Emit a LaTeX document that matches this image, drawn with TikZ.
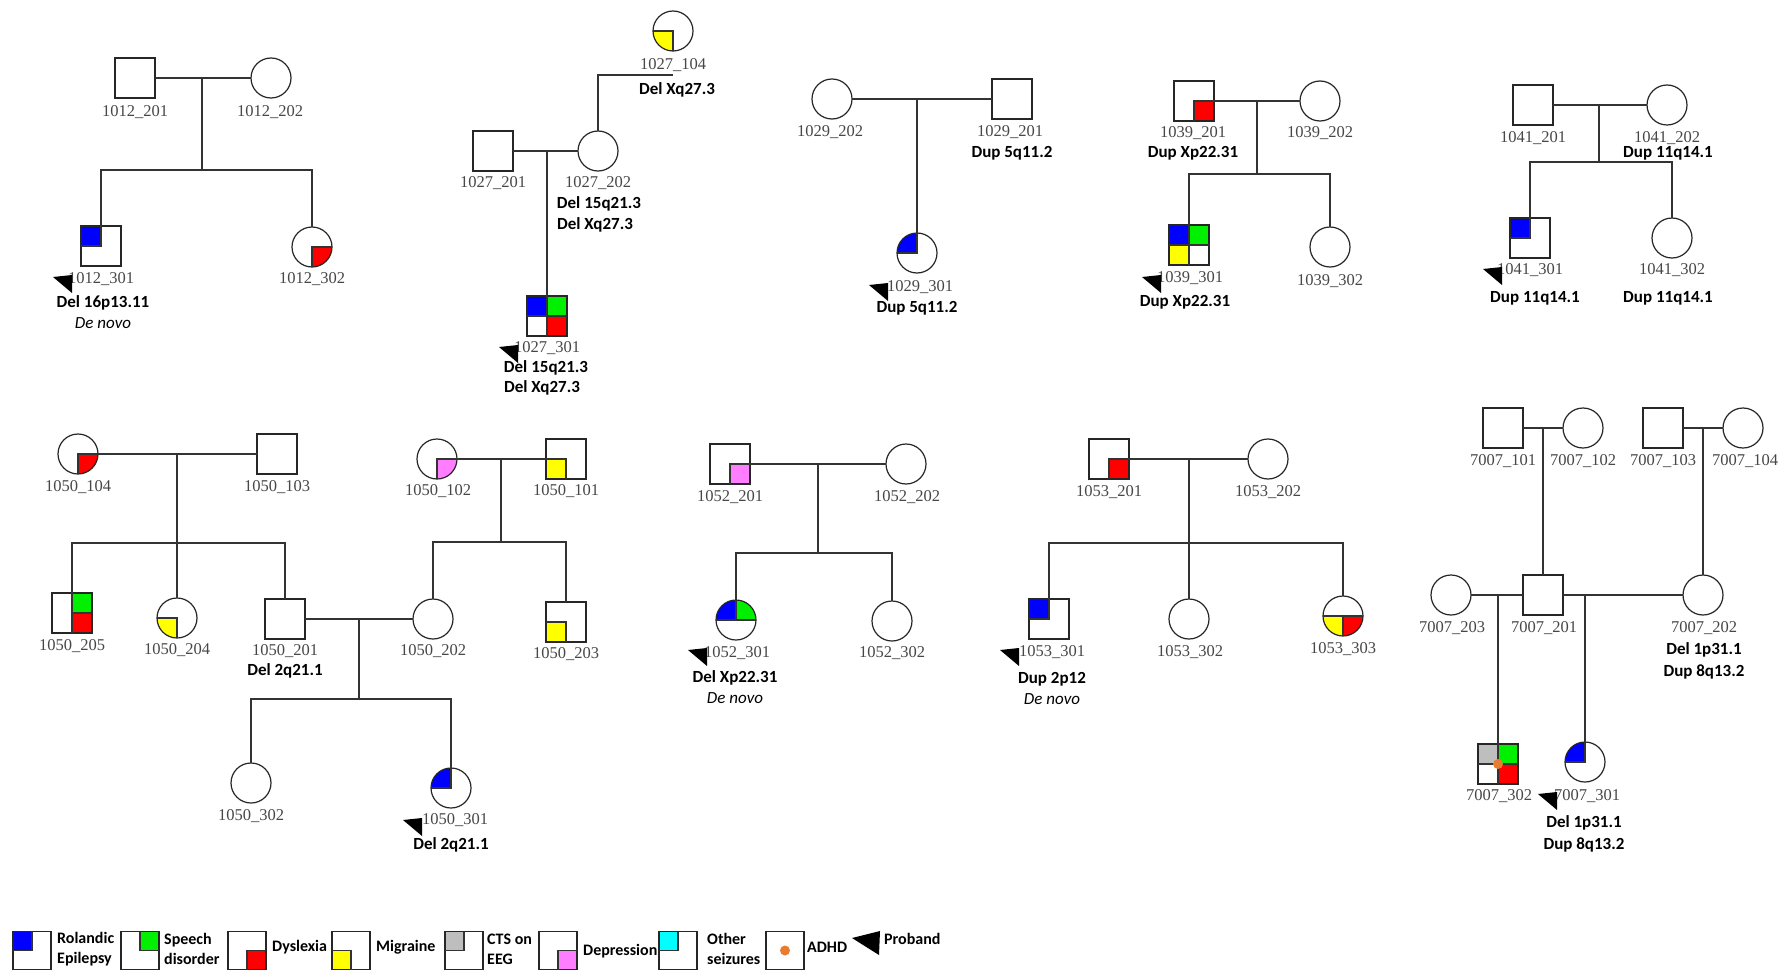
\documentclass[tikz,border=0pt]{standalone}
\usepackage{fontspec}
\setmainfont{Liberation Serif}
\newfontfamily\gfont{Carlito}
\pgfdeclarelayer{bg}
\pgfsetlayers{bg,main}
\definecolor{cBlue}{RGB}{0,0,255}
\definecolor{cGreen}{RGB}{0,240,0}
\definecolor{cRed}{RGB}{255,0,0}
\definecolor{cYel}{RGB}{255,255,0}
\definecolor{cGray}{RGB}{190,190,190}
\definecolor{cPink}{RGB}{255,125,255}
\definecolor{cCyan}{RGB}{0,255,255}
\definecolor{cOrange}{RGB}{232,125,50}
\tikzset{
 sym/.style={draw=black!85, line width=1.2pt, inner sep=0pt, outer sep=0pt, minimum size=40pt},
 male/.style={sym, rectangle},
 fem/.style={sym, circle},
 lnk/.style={draw=black!80, line width=1.2pt},
 idl/.style={font=\fontsize{16.5}{18}\selectfont, text=black!72, inner sep=0pt},
 gt/.style={font=\gfont\bfseries\fontsize{17}{19}\selectfont, inner sep=0pt},
 dn/.style={font=\gfont\itshape\fontsize{17}{19}\selectfont, inner sep=0pt},
 leg/.style={font=\gfont\bfseries\fontsize{16}{20}\selectfont, inner sep=0pt, anchor=west, align=left},
 dot/.style={circle, fill=cOrange, inner sep=0pt, minimum size=10pt},
}
% square quadrant: node, vertical anchor, horizontal anchor, colour
\newcommand\Qs[4]{\begin{pgfonlayer}{bg}\fill[#4] (#1.#2) rectangle (#1.#3);\end{pgfonlayer}
 \draw[lnk] (#1.#2) -- (#1.center) -- (#1.#3);}
% circle quadrant
\newcommand\Qc[4]{\begin{pgfonlayer}{bg}\begin{scope}\clip (#1.#2) rectangle (#1.#3);
 \fill[#4] (#1.center) circle[radius=20pt];\end{scope}\end{pgfonlayer}
 \draw[lnk] (#1.#2) -- (#1.center) -- (#1.#3);}
% proband triangle, top-right corner
\newcommand\pb[2]{\fill[black] (#1-19,#2+2) -- (#1,#2) -- (#1,#2+18) -- cycle;}
\begin{document}
\begin{tikzpicture}[x=1pt,y=-1pt]
\begin{pgfonlayer}{bg}
\fill[white] (0,0) rectangle (1780,971);
\end{pgfonlayer}
\useasboundingbox (0,0) rectangle (1780,971);

%% ---------------- Family 1012
\node[male] (n1012-201) at (135,78) {};
\node[fem]  (n1012-202) at (271,78) {};
\node[male] (n1012-301) at (101,246) {};
\node[fem]  (n1012-302) at (312,247) {};
\Qs{n1012-301}{north}{west}{cBlue}
\Qc{n1012-302}{south}{east}{cRed}
\coordinate (m1012) at (202,78);
\coordinate (s1012) at (202,170);
\draw[lnk] (n1012-201.east) -- (n1012-202.west);
\draw[lnk] (m1012) -- (s1012);
\draw[lnk] (n1012-301.north) |- (s1012) -| (n1012-302.north);
\node[idl] (l1012-201) at (135,112) {1012\_201};
\node[idl] (l1012-202) at (270,112) {1012\_202};
\node[idl] (l1012-301) at (101,279) {1012\_301};
\node[idl] (l1012-302) at (312,279) {1012\_302};
\node[gt] (g1012a) at (103,303) {Del 16p13.11};
\node[dn] (g1012b) at (103,323) {De novo};
\pb{72}{275}

%% ---------------- Family 1027
\node[fem]  (n1027-104) at (673,31) {};
\node[male] (n1027-201) at (493,151) {};
\node[fem]  (n1027-202) at (598,151) {};
\node[male] (n1027-301) at (547,316) {};
\Qc{n1027-104}{south}{west}{cYel}
\Qs{n1027-301}{north}{west}{cBlue}
\Qs{n1027-301}{north}{east}{cGreen}
\Qs{n1027-301}{south}{east}{cRed}
\coordinate (m1027) at (547,151);
\coordinate (g1027) at (673,75);
\draw[lnk] (n1027-201.east) -- (n1027-202.west);
\draw[lnk] (m1027) -- (n1027-301.north);
\draw[lnk] (g1027) -| (n1027-202.north);
\node[idl] (l1027-104) at (673,65) {1027\_104};
\node[gt] (g1027a) at (677,90) {Del Xq27.3};
\node[idl] (l1027-201) at (493,183) {1027\_201};
\node[idl] (l1027-202) at (598,183) {1027\_202};
\node[gt] (g1027b) at (599,204) {Del 15q21.3};
\node[gt] (g1027c) at (595,225) {Del Xq27.3};
\node[idl] (l1027-301) at (547,348) {1027\_301};
\node[gt] (g1027d) at (546,368) {Del 15q21.3};
\node[gt] (g1027e) at (542,388) {Del Xq27.3};
\pb{518}{345}

%% ---------------- Family 1029
\node[fem]  (n1029-202) at (832,99) {};
\node[male] (n1029-201) at (1012,99) {};
\node[fem]  (n1029-301) at (917,253) {};
\Qc{n1029-301}{north}{west}{cBlue}
\coordinate (m1029) at (917,99);
\draw[lnk] (n1029-202.east) -- (n1029-201.west);
\draw[lnk] (m1029) -- (n1029-301.north);
\node[idl] (l1029-202) at (830,132) {1029\_202};
\node[idl] (l1029-201) at (1010,132) {1029\_201};
\node[gt] (g1029a) at (1012,153) {Dup 5q11.2};
\node[idl] (l1029-301) at (920,287) {1029\_301};
\node[gt] (g1029b) at (917,308) {Dup 5q11.2};
\pb{888}{283}

%% ---------------- Family 1039
\node[male] (n1039-201) at (1194,101) {};
\node[fem]  (n1039-202) at (1320,101) {};
\node[male] (n1039-301) at (1189,245) {};
\node[fem]  (n1039-302) at (1330,247) {};
\Qs{n1039-201}{south}{east}{cRed}
\Qs{n1039-301}{north}{west}{cBlue}
\Qs{n1039-301}{north}{east}{cGreen}
\Qs{n1039-301}{south}{west}{cYel}
\coordinate (m1039) at (1257,101);
\coordinate (s1039) at (1257,174);
\draw[lnk] (n1039-201.east) -- (n1039-202.west);
\draw[lnk] (m1039) -- (s1039);
\draw[lnk] (n1039-301.north) |- (s1039) -| (n1039-302.north);
\node[idl] (l1039-201) at (1193,133) {1039\_201};
\node[gt] (g1039a) at (1193,153) {Dup Xp22.31};
\node[idl] (l1039-202) at (1320,133) {1039\_202};
\node[idl] (l1039-301) at (1190,278) {1039\_301};
\node[gt] (g1039b) at (1185,302) {Dup Xp22.31};
\node[idl] (l1039-302) at (1330,281) {1039\_302};
\pb{1161}{275}

%% ---------------- Family 1041
\node[male] (n1041-201) at (1533,105) {};
\node[fem]  (n1041-202) at (1667,105) {};
\node[male] (n1041-301) at (1530,238) {};
\node[fem]  (n1041-302) at (1672,238) {};
\Qs{n1041-301}{north}{west}{cBlue}
\coordinate (m1041) at (1599,105);
\coordinate (s1041) at (1599,162);
\draw[lnk] (n1041-201.east) -- (n1041-202.west);
\draw[lnk] (m1041) -- (s1041);
\draw[lnk] (n1041-301.north) |- (s1041) -| (n1041-302.north);
\node[idl] (l1041-201) at (1533,138) {1041\_201};
\node[idl] (l1041-202) at (1667,138) {1041\_202};
\node[gt] (g1041a) at (1668,153) {Dup 11q14.1};
\node[idl] (l1041-301) at (1530,270) {1041\_301};
\node[gt] (g1041b) at (1535,298) {Dup 11q14.1};
\node[idl] (l1041-302) at (1672,270) {1041\_302};
\node[gt] (g1041c) at (1668,298) {Dup 11q14.1};
\pb{1502}{267}

%% ---------------- Family 1050
\node[fem]  (n1050-104) at (78,454) {};
\node[male] (n1050-103) at (277,454) {};
\node[fem]  (n1050-102) at (437,459) {};
\node[male] (n1050-101) at (566,459) {};
\node[male] (n1050-205) at (72,613) {};
\node[fem]  (n1050-204) at (177,618) {};
\node[male] (n1050-201) at (285,619) {};
\node[fem]  (n1050-202) at (433,619) {};
\node[male] (n1050-203) at (566,622) {};
\node[fem]  (n1050-302) at (251,783) {};
\node[fem]  (n1050-301) at (451,788) {};
\Qc{n1050-104}{south}{east}{cRed}
\Qc{n1050-102}{south}{east}{cPink}
\Qs{n1050-101}{south}{west}{cYel}
\Qs{n1050-205}{north}{east}{cGreen}
\Qs{n1050-205}{south}{east}{cRed}
\Qc{n1050-204}{south}{west}{cYel}
\Qs{n1050-203}{south}{west}{cYel}
\Qc{n1050-301}{north}{west}{cBlue}
\coordinate (m1050a) at (177,454);
\coordinate (s1050a) at (177,543);
\coordinate (m1050b) at (501,459);
\coordinate (s1050b) at (501,542);
\coordinate (m1050c) at (359,619);
\coordinate (s1050c) at (359,699);
\draw[lnk] (n1050-104.east) -- (n1050-103.west);
\draw[lnk] (m1050a) -- (n1050-204.north);
\draw[lnk] (n1050-205.north) |- (s1050a) -| (n1050-201.north);
\draw[lnk] (n1050-102.east) -- (n1050-101.west);
\draw[lnk] (m1050b) -- (s1050b);
\draw[lnk] (n1050-202.north) |- (s1050b) -| (n1050-203.north);
\draw[lnk] (n1050-201.east) -- (n1050-202.west);
\draw[lnk] (m1050c) -- (s1050c);
\draw[lnk] (n1050-302.north) |- (s1050c) -| (n1050-301.north);
\node[idl] (l1050-104) at (78,487) {1050\_104};
\node[idl] (l1050-103) at (277,487) {1050\_103};
\node[idl] (l1050-102) at (438,491) {1050\_102};
\node[idl] (l1050-101) at (566,491) {1050\_101};
\node[idl] (l1050-205) at (72,646) {1050\_205};
\node[idl] (l1050-204) at (177,650) {1050\_204};
\node[idl] (l1050-201) at (285,651) {1050\_201};
\node[gt] (g1050a) at (285,671) {Del 2q21.1};
\node[idl] (l1050-202) at (433,651) {1050\_202};
\node[idl] (l1050-203) at (566,654) {1050\_203};
\node[idl] (l1050-302) at (251,816) {1050\_302};
\node[idl] (l1050-301) at (455,820) {1050\_301};
\node[gt] (g1050b) at (451,845) {Del 2q21.1};
\pb{422}{818}

%% ---------------- Family 1052
\node[male] (n1052-201) at (730,464) {};
\node[fem]  (n1052-202) at (906,464) {};
\node[fem]  (n1052-301) at (736,620) {};
\node[fem]  (n1052-302) at (892,621) {};
\Qs{n1052-201}{south}{east}{cPink}
\Qc{n1052-301}{north}{west}{cBlue}
\Qc{n1052-301}{north}{east}{cGreen}
\coordinate (m1052) at (818,464);
\coordinate (s1052) at (818,553);
\draw[lnk] (n1052-201.east) -- (n1052-202.west);
\draw[lnk] (m1052) -- (s1052);
\draw[lnk] (n1052-301.north) |- (s1052) -| (n1052-302.north);
\node[idl] (l1052-201) at (730,497) {1052\_201};
\node[idl] (l1052-202) at (907,497) {1052\_202};
\node[idl] (l1052-301) at (737,653) {1052\_301};
\node[gt] (g1052a) at (735,678) {Del Xp22.31};
\node[dn] (g1052b) at (735,698) {De novo};
\node[idl] (l1052-302) at (892,653) {1052\_302};
\pb{707}{648}

%% ---------------- Family 1053
\node[male] (n1053-201) at (1109,459) {};
\node[fem]  (n1053-202) at (1268,459) {};
\node[male] (n1053-301) at (1049,619) {};
\node[fem]  (n1053-302) at (1189,619) {};
\node[fem]  (n1053-303) at (1343,616) {};
\Qs{n1053-201}{south}{east}{cRed}
\Qs{n1053-301}{north}{west}{cBlue}
\Qc{n1053-303}{south}{west}{cYel}
\Qc{n1053-303}{south}{east}{cRed}
\coordinate (m1053) at (1189,459);
\coordinate (s1053) at (1189,543);
\draw[lnk] (n1053-201.east) -- (n1053-202.west);
\draw[lnk] (m1053) -- (n1053-302.north);
\draw[lnk] (n1053-301.north) |- (s1053) -| (n1053-303.north);
\node[idl] (l1053-201) at (1109,492) {1053\_201};
\node[idl] (l1053-202) at (1268,492) {1053\_202};
\node[idl] (l1053-301) at (1052,652) {1053\_301};
\node[gt] (g1053a) at (1052,679) {Dup 2p12};
\node[dn] (g1053b) at (1052,699) {De novo};
\node[idl] (l1053-302) at (1190,652) {1053\_302};
\node[idl] (l1053-303) at (1343,649) {1053\_303};
\pb{1019}{648}

%% ---------------- Family 7007
\node[male] (n7007-101) at (1503,428) {};
\node[fem]  (n7007-102) at (1583,428) {};
\node[male] (n7007-103) at (1663,428) {};
\node[fem]  (n7007-104) at (1743,428) {};
\node[fem]  (n7007-203) at (1451,595) {};
\node[male] (n7007-201) at (1543,595) {};
\node[fem]  (n7007-202) at (1703,595) {};
\node[male] (n7007-302) at (1498,764) {};
\node[fem]  (n7007-301) at (1585,762) {};
\Qs{n7007-302}{north}{west}{cGray}
\Qs{n7007-302}{north}{east}{cGreen}
\Qs{n7007-302}{south}{east}{cRed}
\Qc{n7007-301}{north}{west}{cBlue}
\node[dot] (d7007) at (n7007-302.center) {};
\coordinate (m7007a) at (1543,428);
\coordinate (m7007b) at (1703,428);
\coordinate (m7007c) at (1498,595);
\coordinate (m7007d) at (1585,595);
\draw[lnk] (n7007-101.east) -- (n7007-102.west);
\draw[lnk] (n7007-103.east) -- (n7007-104.west);
\draw[lnk] (m7007a) -- (n7007-201.north);
\draw[lnk] (m7007b) -- (n7007-202.north);
\draw[lnk] (n7007-203.east) -- (n7007-201.west);
\draw[lnk] (n7007-201.east) -- (n7007-202.west);
\draw[lnk] (m7007c) -- (n7007-302.north);
\draw[lnk] (m7007d) -- (n7007-301.north);
\node[idl] (l7007-101) at (1503,461) {7007\_101};
\node[idl] (l7007-102) at (1583,461) {7007\_102};
\node[idl] (l7007-103) at (1663,461) {7007\_103};
\node[idl] (l7007-104) at (1745,461) {7007\_104};
\node[idl] (l7007-203) at (1452,628) {7007\_203};
\node[idl] (l7007-201) at (1544,628) {7007\_201};
\node[idl] (l7007-202) at (1704,628) {7007\_202};
\node[gt] (g7007a) at (1704,650) {Del 1p31.1};
\node[gt] (g7007b) at (1704,672) {Dup 8q13.2};
\node[idl] (l7007-302) at (1499,796) {7007\_302};
\node[idl] (l7007-301) at (1587,796) {7007\_301};
\node[gt] (g7007c) at (1584,823) {Del 1p31.1};
\node[gt] (g7007d) at (1584,845) {Dup 8q13.2};
\pb{1557}{792}

%% ---------------- Legend
\node[male, minimum size=38pt] (k1) at (32,950.5) {};
\Qs{k1}{north}{west}{cBlue}
\node[leg] (t1) at (57,949) {Rolandic\\Epilepsy};
\node[male, minimum size=38pt] (k2) at (140,950.5) {};
\Qs{k2}{north}{east}{cGreen}
\node[leg] (t2) at (164,949) {Speech\\disorder};
\node[male, minimum size=38pt] (k3) at (247,950.5) {};
\Qs{k3}{south}{east}{cRed}
\node[leg] (t3) at (272,947) {Dyslexia};
\node[male, minimum size=38pt] (k4) at (351,950.5) {};
\Qs{k4}{south}{west}{cYel}
\node[leg] (t4) at (376,947) {Migraine};
\node[male, minimum size=38pt] (k5) at (464,950.5) {};
\Qs{k5}{north}{west}{cGray}
\node[leg] (t5) at (487,949) {CTS on\\EEG};
\node[male, minimum size=38pt] (k6) at (558,950.5) {};
\Qs{k6}{south}{east}{cPink}
\node[leg] (t6) at (583,951) {Depression};
\node[male, minimum size=38pt] (k7) at (678,950.5) {};
\Qs{k7}{north}{west}{cCyan}
\node[leg] (t7) at (707,949) {Other\\seizures};
\node[male, minimum size=38pt] (k8) at (785,950.5) {};
\node[dot] (d8) at (k8.center) {};
\node[leg] (t8) at (807,947) {ADHD};
\fill[black] (852,938) -- (880,931) -- (879,955) -- cycle;
\node[leg] (t9) at (884,939) {Proband};
\end{tikzpicture}
\end{document}
